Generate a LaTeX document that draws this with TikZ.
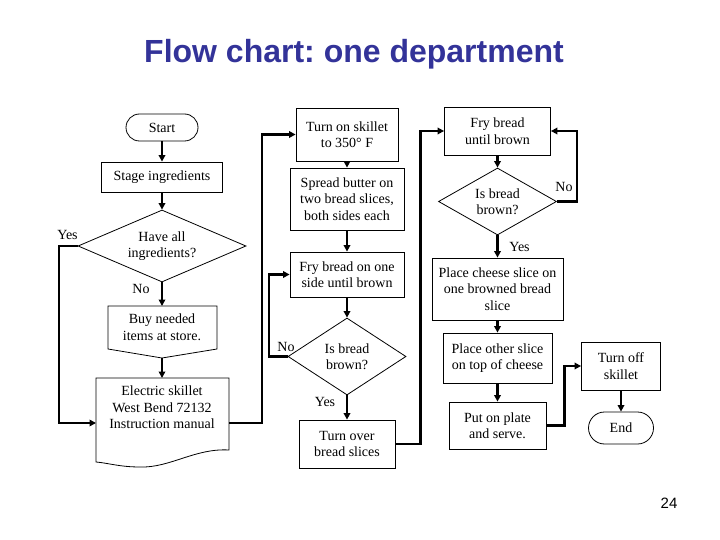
\documentclass[tikz,border=0pt]{standalone}
\usepackage{fontspec}
\setmainfont{Liberation Serif}
\newfontfamily\arialf{Liberation Sans}
\usetikzlibrary{shapes.geometric,arrows.meta,calc}
\definecolor{titleblue}{RGB}{51,51,153}
\newcommand{\txtf}{\fontsize{14}{16.5}\selectfont}
\frenchspacing
\begin{document}
\begin{tikzpicture}[x=1pt,y=-1pt,
  box/.style={draw, line width=0.8pt, align=center, inner sep=0pt, font=\txtf},
  decide/.style={box, diamond},
  conn/.style={line width=2.2pt, -{Triangle[length=6.5pt,width=6.5pt]}},
  lbl/.style={font=\txtf, inner sep=0pt, align=center},
  outline/.style={draw, line width=0.8pt}
]
\useasboundingbox (0,0) rectangle (720,540);

% title and page number
\node[font=\arialf\fontsize{32}{38}\selectfont\bfseries, text=titleblue, anchor=base, inner sep=0pt] (title) at (354,63) {Flow chart: one department};
\node[font=\arialf\fontsize{15}{18}\selectfont, inner sep=0pt] (page) at (669,503.5) {24};

% column 1
\node[box, rounded corners=13.5pt, minimum width=72pt, minimum height=27pt] (start) at (162,127.5) {Start};
\node[box, minimum width=121pt, minimum height=30pt] (stage) at (162,177) {Stage ingredients};
\node[decide, aspect=2.33, minimum width=168pt, minimum height=72pt] (have) at (162,246) {Have all\\ingredients?};
\draw[outline] (108,306) -- (217,306) -- (217,349) -- (162,358) -- (108,349) -- cycle;
\node[lbl] (buy) at (162,327) {Buy needed\\items at store.};
\coordinate (buyTop) at (162,306);
\coordinate (buyTip) at (162,358);
\draw[outline] (96,378) -- (229,378) -- (229,450) .. controls (195,448) and (170,468) .. (140,467) .. controls (120,467) and (108,463) .. (96,462) -- cycle;
\node[lbl] (manual) at (162,407.5) {Electric skillet\\West Bend 72132\\Instruction manual};
\coordinate (manTop) at (162,378);
\coordinate (manL) at (96,423);
\coordinate (manR) at (229,423);

% column 2
\node[box, minimum width=102pt, minimum height=53pt] (skillet) at (347,134.5) {Turn on skillet\\to 350° F};
\node[box, minimum width=114pt, minimum height=62pt] (butter) at (347,199) {Spread butter on\\two bread slices,\\both sides each};
\node[box, minimum width=114pt, minimum height=45pt] (fryone) at (347,274.5) {Fry bread on one\\side until brown};
\node[decide, aspect=1.53, minimum width=118pt, minimum height=77pt] (isb2) at (347,356.5) {Is bread\\brown?};
\node[box, minimum width=96pt, minimum height=48pt] (turnover) at (347,444) {Turn over\\bread slices};

% column 3
\node[box, minimum width=106pt, minimum height=48pt] (frybrown) at (497.5,131) {Fry bread\\until brown};
\node[decide, aspect=1.76, minimum width=118pt, minimum height=67pt] (isb3) at (497.5,201.5) {Is bread\\brown?};
\node[box, minimum width=131pt, minimum height=62pt] (cheese) at (497.5,289) {Place cheese slice on\\one browned bread\\slice};
\node[box, minimum width=109pt, minimum height=50pt] (other) at (497.5,358) {Place other slice\\on top of cheese};
\node[box, minimum width=97pt, minimum height=47pt] (plate) at (497.5,425.5) {Put on plate\\and serve.};

% column 4
\node[box, minimum width=79pt, minimum height=48pt] (turnoff) at (621,366) {Turn off\\skillet};
\node[box, rounded corners=16pt, minimum width=65pt, minimum height=32pt] (end) at (621,428) {End};

% labels
\node[lbl] (yes1) at (67.5,235) {Yes};
\node[lbl] (no1) at (141,289) {No};
\node[lbl] (no2) at (286,347) {No};
\node[lbl] (yes2) at (325,402) {Yes};
\node[lbl] (no3) at (564,187) {No};
\node[lbl] (yes3) at (519.5,247) {Yes};

% connectors
\draw[conn] (start.south) -- (stage.north);
\draw[conn] (stage.south) -- (have.north);
\draw[conn] (have.south) -- (buyTop);
\draw[conn] (buyTip) -- (manTop);
\draw[conn] (have.west) -- ++(-19,0) |- (manL);
\draw[conn] (manR) -- ++(33,0) |- (skillet.west);
\draw[conn] (skillet.south) -- (butter.north);
\draw[conn] (butter.south) -- (fryone.north);
\draw[conn] (fryone.south) -- (isb2.north);
\draw[conn] (isb2.west) -- ++(-19,0) |- (fryone.west);
\draw[conn] (isb2.south) -- (turnover.north);
\draw[conn] (turnover.east) -- ++(25,0) |- (frybrown.west);
\draw[conn] (frybrown.south) -- (isb3.north);
\draw[conn] (isb3.east) -- ++(20,0) |- (frybrown.east);
\draw[conn] (isb3.south) -- (cheese.north);
\draw[conn] (cheese.south) -- (other.north);
\draw[conn] (other.south) -- (plate.north);
\draw[conn] (plate.east) -- ++(18,0) |- (turnoff.west);
\draw[conn] (turnoff.south) -- (end.north);
\end{tikzpicture}
\end{document}
